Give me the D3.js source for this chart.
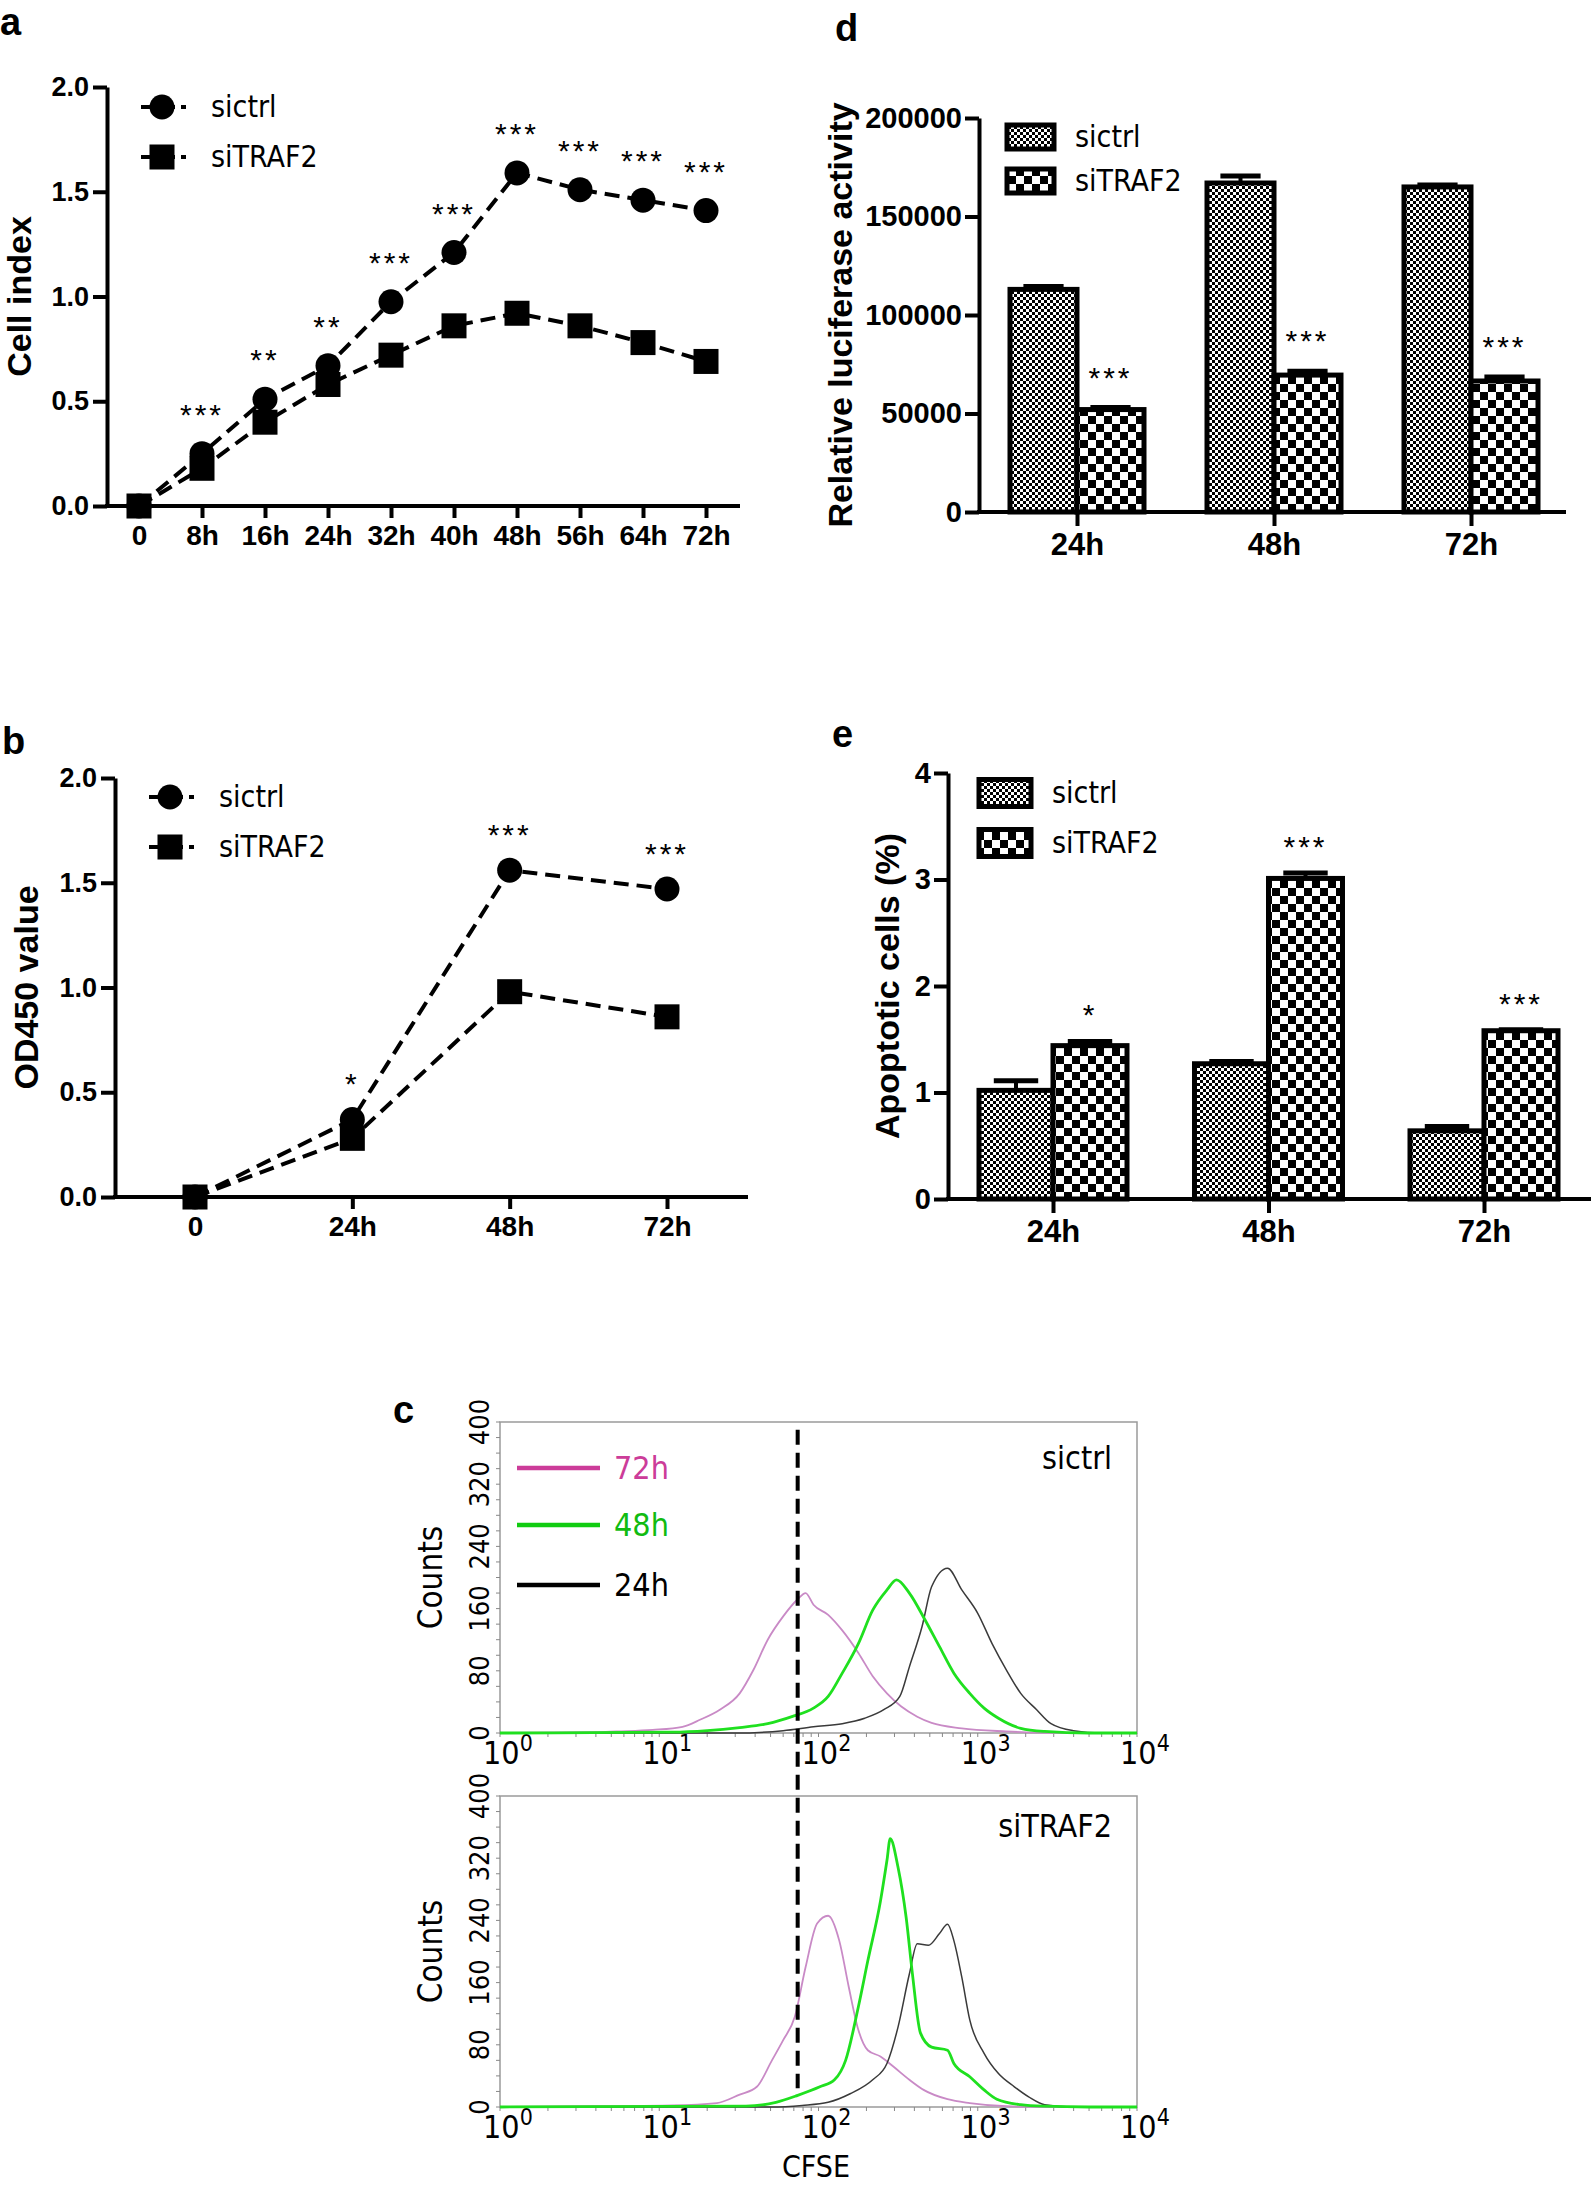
<!DOCTYPE html>
<html>
<head>
<meta charset="utf-8">
<script src="https://cdn.jsdelivr.net/npm/d3@7"></script>
<style>body{margin:0;background:#fff}</style>
</head>
<body>
<script>
// ---------- data ----------
// panel a: cell index (RTCA)
const cellTimes = ["0", "8h", "16h", "24h", "32h", "40h", "48h", "56h", "64h", "72h"];
const cellCtrl  = [0, 0.25, 0.51, 0.67, 0.975, 1.21, 1.59, 1.51, 1.46, 1.41];
const cellTraf2 = [0, 0.18, 0.40, 0.58, 0.72, 0.86, 0.92, 0.86, 0.78, 0.69];
const cellStars = ["", "***", "**", "**", "***", "***", "***", "***", "***", "***"];

// panel b: CCK-8
const odTimes = ["0", "24h", "48h", "72h"];
const odCtrl  = [0, 0.37, 1.56, 1.47];
const odTraf2 = [0, 0.28, 0.98, 0.86];
const odStars = ["", "*", "***", "***"];

// panel d: luciferase
const barTimes = ["24h", "48h", "72h"];
const lucCtrl     = [113000, 167000, 165000];
const lucCtrlErr  = [1500, 3500, 1000];
const lucTraf2    = [52000, 69500, 66500];
const lucTraf2Err = [1000, 2000, 2000];
const lucStars    = ["***", "***", "***"];

// panel e: apoptosis
const apoCtrl     = [1.02, 1.27, 0.64];
const apoCtrlErr  = [0.09, 0.02, 0.04];
const apoTraf2    = [1.44, 3.01, 1.58];
const apoTraf2Err = [0.04, 0.05, 0.01];
const apoStars    = ["*", "***", "***"];

// panel c: CFSE histograms, [CFSE, counts]
const gateCFSE = 74;
const ctrl72h = [[1,0],[4,1],[5.4,2],[9.1,4],[14,8],[18,17],[24,30],[32,51],[39,81],[48,120],[60,150],[74,172],[83,180],[93,165],[115,152],[141,132],[178,103],[219,73],[269,51],[331,34],[417,21],[513,13],[794,6],[1514,2],[3000,0],[10000,0]];
const ctrl48h = [[1,0],[12,1],[20,3],[32,7],[48,12],[68,21],[93,32],[115,47],[141,77],[178,115],[219,158],[269,184],[309,197],[372,180],[468,145],[575,111],[708,77],[891,51],[1096,32],[1349,19],[1862,6],[2630,2],[5000,0],[10000,0]];
const ctrl24h = [[1,0],[30,0],[60,3],[93,8],[141,12],[195,19],[257,30],[324,47],[372,85],[447,137],[513,188],[646,212],[794,184],[1000,154],[1230,115],[1514,81],[1862,51],[2344,30],[2884,12],[3981,3],[6000,0],[10000,0]];
const traf72h = [[1,0],[4.1,1],[12,2],[23,5],[32,16],[41,26],[51,60],[60,86],[71,116],[83,180],[98,236],[115,246],[135,214],[155,154],[178,99],[204,73],[245,65],[295,52],[372,35],[457,22],[646,10],[891,5],[1514,1],[3000,0],[10000,0]];
const traf48h = [[1,0],[35,1],[54,6],[74,15],[102,26],[126,35],[148,60],[178,129],[204,188],[245,265],[269,317],[282,345],[316,308],[355,244],[389,171],[437,95],[513,77],[646,73],[708,56],[891,39],[1096,22],[1318,10],[1862,3],[2600,1],[5000,0],[10000,0]];
const traf24h = [[1,0],[50,0],[79,2],[115,6],[158,17],[219,35],[269,56],[316,103],[372,171],[417,210],[490,208],[575,223],[646,235],[708,214],[794,167],[891,112],[1096,69],[1349,43],[1698,26],[2089,13],[2630,3],[4000,0],[10000,0]];
const countTicks = [0, 80, 160, 240, 320, 400];
const decadeTicks = [1, 10, 100, 1000, 10000];

// ---------- setup ----------
const ARIAL = "'Liberation Sans', Arial, sans-serif";
const NARROW = "'Liberation Sans Narrow', 'Arial Narrow', 'DejaVu Sans Condensed', 'Liberation Sans', sans-serif";

const svg = d3.select("body").append("svg")
    .attr("width", 1594).attr("height", 2187)
    .style("background", "#fff");

const defs = svg.append("defs");
function checker(id, size) {
  const p = defs.append("pattern").attr("id", id)
      .attr("patternUnits", "userSpaceOnUse")
      .attr("width", size * 2).attr("height", size * 2);
  p.append("rect").attr("width", size * 2).attr("height", size * 2).attr("fill", "#fff");
  p.append("rect").attr("width", size).attr("height", size).attr("fill", "#000");
  p.append("rect").attr("x", size).attr("y", size).attr("width", size).attr("height", size).attr("fill", "#000");
}
checker("fine", 3);
checker("coarse", 8);

function panelLetter(t, x, y) {
  svg.append("text").attr("x", x).attr("y", y)
      .attr("font-family", ARIAL).attr("font-weight", "bold").attr("font-size", 38)
      .text(t);
}

function styleAxis(sel, fs) {
  sel.attr("font-family", ARIAL).attr("font-size", fs).attr("font-weight", "bold");
  sel.select(".domain").attr("stroke-width", 4);
  sel.selectAll(".tick line").attr("stroke-width", 4);
  sel.selectAll(".tick text").attr("fill", "#000");
}

function yTitle(g, text, cx, cy) {
  // rotated text, glyph body centred on cx
  g.append("text")
      .attr("transform", `translate(${cx + 12},${cy}) rotate(-90)`)
      .attr("text-anchor", "middle")
      .attr("font-family", ARIAL).attr("font-weight", "bold").attr("font-size", 34)
      .text(text);
}

function stars(g, text, x, y) {
  g.append("text").attr("x", x).attr("y", y)
      .attr("text-anchor", "middle")
      .attr("font-family", ARIAL).attr("font-size", 30)
      .attr("letter-spacing", 3)
      .text(text);
}

// ---------- line panels (a, b) ----------
function linePanel(o) {
  const g = svg.append("g");
  const x = d3.scalePoint().domain(o.cats).range(o.xRange);
  const y = d3.scaleLinear().domain([0, 2]).range([o.yBot, o.yTop]);

  const ya = g.append("g").attr("transform", `translate(${o.x0},0)`)
      .call(d3.axisLeft(y).tickValues([0, 0.5, 1, 1.5, 2]).tickFormat(d3.format(".1f"))
        .tickSize(14).tickSizeOuter(0).tickPadding(4));
  styleAxis(ya, 27);

  const xa = g.append("g").attr("transform", `translate(0,${o.yBot})`)
      .call(d3.axisBottom(x).tickSize(12).tickSizeOuter(0).tickPadding(7));
  styleAxis(xa, 28);
  xa.select(".domain").remove();
  g.append("line").attr("x1", o.x0 - 2).attr("x2", o.x1)
      .attr("y1", o.yBot).attr("y2", o.yBot)
      .attr("stroke", "#000").attr("stroke-width", 4);

  const line = d3.line().x((d, i) => x(o.cats[i])).y(d => y(d));
  [o.traf, o.ctrl].forEach(vals => {
    g.append("path").attr("d", line(vals))
        .attr("fill", "none").attr("stroke", "#000")
        .attr("stroke-width", 4).attr("stroke-dasharray", "15,8");
  });

  g.selectAll(".sq").data(o.traf).join("rect")
      .attr("x", (d, i) => x(o.cats[i]) - 12.5).attr("y", d => y(d) - 12.5)
      .attr("width", 25).attr("height", 25).attr("fill", "#000");
  g.selectAll(".ci").data(o.ctrl).join("circle")
      .attr("cx", (d, i) => x(o.cats[i])).attr("cy", d => y(d))
      .attr("r", 12.5).attr("fill", "#000");

  o.stars.forEach((s, i) => {
    if (s) stars(g, s, x(o.cats[i]), y(o.ctrl[i]) - o.starDy);
  });

  // legend
  ["sictrl", "siTRAF2"].forEach((name, i) => {
    const ly = o.legY[i];
    g.append("line").attr("x1", o.legX - 21).attr("x2", o.legX + 24)
        .attr("y1", ly).attr("y2", ly)
        .attr("stroke", "#000").attr("stroke-width", 4).attr("stroke-dasharray", "14,6");
    if (i === 0) g.append("circle").attr("cx", o.legX).attr("cy", ly).attr("r", 12.5);
    else g.append("rect").attr("x", o.legX - 12.5).attr("y", ly - 12.5).attr("width", 25).attr("height", 25);
    g.append("text").attr("x", o.legX + 49).attr("y", ly + 10)
        .attr("font-family", NARROW).attr("font-size", 30).text(name);
  });

  yTitle(g, o.yLabel, o.yLabelX, (o.yTop + o.yBot) / 2);
}

linePanel({
  cats: cellTimes, ctrl: cellCtrl, traf: cellTraf2, stars: cellStars, starDy: 29,
  x0: 107, x1: 740, yTop: 87, yBot: 506, xRange: [139, 706],
  legX: 162, legY: [107, 157], yLabel: "Cell index", yLabelX: 19
});
panelLetter("a", 0, 35);

linePanel({
  cats: odTimes, ctrl: odCtrl, traf: odTraf2, stars: odStars, starDy: 25,
  x0: 115, x1: 748, yTop: 778, yBot: 1197, xRange: [195, 667],
  legX: 170, legY: [797, 847], yLabel: "OD450 value", yLabelX: 26
});
panelLetter("b", 2, 754);

// ---------- bar panels (d, e) ----------
function barPanel(o) {
  const g = svg.append("g");
  const x = d3.scalePoint().domain(o.cats).range(o.xRange);
  const inner = d3.scaleBand().domain(["sictrl", "siTRAF2"]).range([-o.bw, o.bw]);
  const y = d3.scaleLinear().domain(o.yDomain).range([o.yBot, o.yTop]);
  const fills = { sictrl: "url(#fine)", siTRAF2: "url(#coarse)" };

  const series = [
    { name: "sictrl", vals: o.ctrl, err: o.ctrlErr },
    { name: "siTRAF2", vals: o.traf, err: o.trafErr }
  ];
  series.forEach(s => {
    s.vals.forEach((v, i) => {
      const bx = x(o.cats[i]) + inner(s.name);
      g.append("rect").attr("x", bx).attr("y", y(v))
          .attr("width", inner.bandwidth()).attr("height", y(0) - y(v))
          .attr("fill", fills[s.name]).attr("stroke", "#000").attr("stroke-width", 5);
    });
  });
  series.forEach(s => {
    s.vals.forEach((v, i) => {
      const cx = x(o.cats[i]) + inner(s.name) + inner.bandwidth() / 2;
      const top = y(v + s.err[i]);
      g.append("line").attr("x1", cx).attr("x2", cx).attr("y1", y(v)).attr("y2", top)
          .attr("stroke", "#000").attr("stroke-width", 4);
      g.append("line").attr("x1", cx - inner.bandwidth() * 0.3).attr("x2", cx + inner.bandwidth() * 0.3)
          .attr("y1", top).attr("y2", top)
          .attr("stroke", "#000").attr("stroke-width", 5);
    });
  });
  o.stars.forEach((s, i) => {
    const cx = x(o.cats[i]) + inner("siTRAF2") + inner.bandwidth() / 2;
    stars(g, s, cx, y(o.traf[i] + o.trafErr[i]) - o.starDy);
  });

  const ya = g.append("g").attr("transform", `translate(${o.x0},0)`)
      .call(d3.axisLeft(y).tickValues(o.ticks).tickFormat(d3.format("d"))
        .tickSize(14).tickSizeOuter(0).tickPadding(3));
  styleAxis(ya, 29);
  const xa = g.append("g").attr("transform", `translate(0,${o.yBot})`)
      .call(d3.axisBottom(x).tickSize(14).tickSizeOuter(0).tickPadding(7));
  styleAxis(xa, 31);
  xa.select(".domain").remove();
  g.append("line").attr("x1", o.x0 - 2).attr("x2", o.x1)
      .attr("y1", o.yBot).attr("y2", o.yBot)
      .attr("stroke", "#000").attr("stroke-width", 4);

  ["sictrl", "siTRAF2"].forEach((name, i) => {
    const ly = o.legY[i];
    g.append("rect").attr("x", o.legX).attr("y", ly - o.legH / 2)
        .attr("width", o.legW).attr("height", o.legH)
        .attr("fill", fills[name]).attr("stroke", "#000").attr("stroke-width", 5);
    g.append("text").attr("x", o.legX + o.legW + 21).attr("y", ly + 10)
        .attr("font-family", NARROW).attr("font-size", 30).text(name);
  });

  yTitle(g, o.yLabel, o.yLabelX, (o.yTop + o.yBot) / 2);
}

barPanel({
  cats: barTimes, ctrl: lucCtrl, ctrlErr: lucCtrlErr, traf: lucTraf2, trafErr: lucTraf2Err, stars: lucStars, starDy: 20,
  x0: 979, x1: 1566, yTop: 118, yBot: 512, xRange: [1077, 1471], bw: 67,
  yDomain: [0, 200000], ticks: [0, 50000, 100000, 150000, 200000],
  legX: 1007, legW: 47, legH: 24, legY: [137, 181],
  yLabel: "Relative luciferase activity", yLabelX: 840
});
panelLetter("d", 835, 41);

barPanel({
  cats: barTimes, ctrl: apoCtrl, ctrlErr: apoCtrlErr, traf: apoTraf2, trafErr: apoTraf2Err, stars: apoStars, starDy: 16,
  x0: 948, x1: 1591, yTop: 773, yBot: 1199, xRange: [1053, 1484], bw: 74,
  yDomain: [0, 4], ticks: [0, 1, 2, 3, 4],
  legX: 979, legW: 52, legH: 27, legY: [793, 843],
  yLabel: "Apoptotic cells (%)", yLabelX: 887
});
panelLetter("e", 832, 747);

// ---------- panel c: CFSE histograms ----------
const cfse = d3.scaleLog().domain([1, 10000]).range([500, 1137]);

function histPanel(o) {
  const g = svg.append("g");
  const y = d3.scaleLinear().domain([0, 400]).range([o.yBot, o.yTop]);

  g.append("rect").attr("x", cfse(1)).attr("y", y(400))
      .attr("width", cfse(10000) - cfse(1)).attr("height", y(0) - y(400))
      .attr("fill", "none").attr("stroke", "#9a9a9a").attr("stroke-width", 1.5);

  // minor ticks
  g.selectAll(".ym").data(d3.range(0, 401, 20)).join("line")
      .attr("x1", cfse(1) - 4).attr("x2", cfse(1)).attr("y1", d => y(d)).attr("y2", d => y(d))
      .attr("stroke", "#888").attr("stroke-width", 1);
  g.selectAll(".xm").data(cfse.ticks()).join("line")
      .attr("x1", d => cfse(d)).attr("x2", d => cfse(d)).attr("y1", y(0)).attr("y2", y(0) + 4)
      .attr("stroke", "#888").attr("stroke-width", 1);

  g.selectAll(".yl").data(countTicks).join("text")
      .attr("transform", d => `translate(489,${y(d)}) rotate(-90)`)
      .attr("text-anchor", "middle")
      .attr("font-family", NARROW).attr("font-size", 27)
      .text(d => d);

  g.append("text")
      .attr("transform", `translate(442,${(o.yTop + o.yBot) / 2}) rotate(-90)`)
      .attr("text-anchor", "middle")
      .attr("font-family", NARROW).attr("font-size", 33)
      .text("Counts");

  decadeTicks.forEach(d => {
    const t = g.append("text").attr("x", cfse(d) - 17).attr("y", o.yBot + 31)
        .attr("font-family", NARROW).attr("font-size", 32);
    t.append("tspan").text("10");
    t.append("tspan").attr("dy", -13).attr("font-size", 23).text(Math.round(Math.log10(d)));
  });

  const line = d3.line().x(d => cfse(d[0])).y(d => y(d[1])).curve(d3.curveMonotoneX);
  o.curves.forEach(c => {
    g.append("path").attr("d", line(c.data))
        .attr("fill", "none").attr("stroke", c.color)
        .attr("stroke-width", c.width).attr("stroke-linejoin", "round");
  });

  g.append("text").attr("x", 1112).attr("y", o.yTop + o.labelDy)
      .attr("text-anchor", "end")
      .attr("font-family", NARROW).attr("font-size", 32)
      .text(o.label);
  return y;
}

const yTopC = histPanel({
  yTop: 1422, yBot: 1733, label: "sictrl", labelDy: 47,
  curves: [
    { data: ctrl72h, color: "#c98ac6", width: 1.8 },
    { data: ctrl24h, color: "#3a3a3a", width: 1.5 },
    { data: ctrl48h, color: "#1fe01f", width: 2.8 }
  ]
});
const yBotC = histPanel({
  yTop: 1796, yBot: 2107, label: "siTRAF2", labelDy: 41,
  curves: [
    { data: traf72h, color: "#c98ac6", width: 1.8 },
    { data: traf24h, color: "#3a3a3a", width: 1.5 },
    { data: traf48h, color: "#1fe01f", width: 2.8 }
  ]
});

// legend of panel c
const cLegend = [
  { name: "72h", line: "#cc3c99", text: "#cc3c99", y: 1468 },
  { name: "48h", line: "#11cc11", text: "#11bb11", y: 1525 },
  { name: "24h", line: "#000000", text: "#000000", y: 1585 }
];
cLegend.forEach(d => {
  svg.append("line").attr("x1", 517).attr("x2", 600).attr("y1", d.y).attr("y2", d.y)
      .attr("stroke", d.line).attr("stroke-width", 4.5);
  svg.append("text").attr("x", 614).attr("y", d.y + 11)
      .attr("font-family", NARROW).attr("font-size", 32)
      .attr("fill", d.text).text(d.name);
});

// gate line through both histograms
svg.append("line")
    .attr("x1", cfse(gateCFSE)).attr("x2", cfse(gateCFSE))
    .attr("y1", yTopC(390)).attr("y2", yBotC(24))
    .attr("stroke", "#000").attr("stroke-width", 4).attr("stroke-dasharray", "15,8");

svg.append("text").attr("x", 816).attr("y", 2177)
    .attr("text-anchor", "middle")
    .attr("font-family", NARROW).attr("font-size", 30)
    .text("CFSE");

panelLetter("c", 393, 1423);
</script>
</body>
</html>
